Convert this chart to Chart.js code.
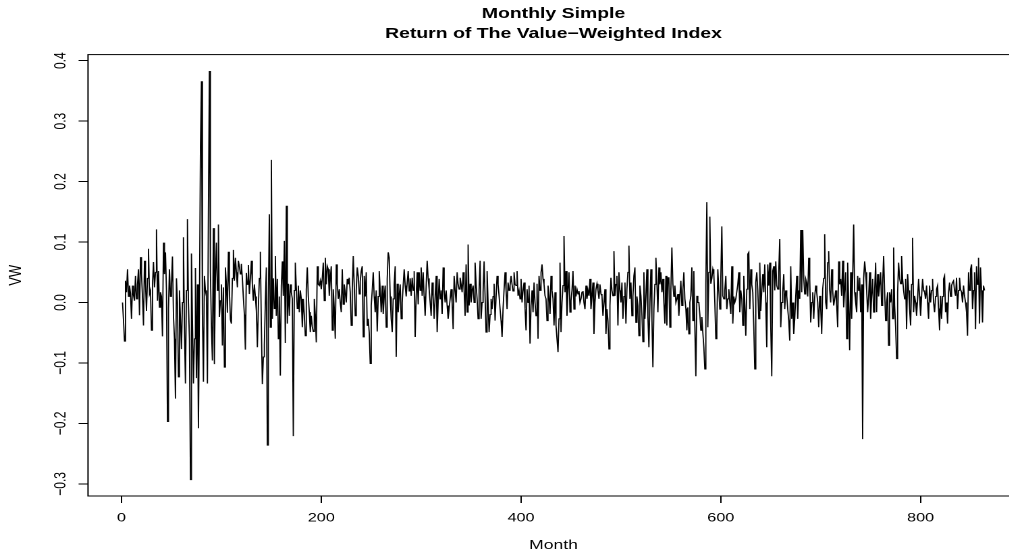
<!DOCTYPE html>
<html><head><meta charset="utf-8">
<script src="https://cdn.jsdelivr.net/npm/chart.js@4.4.1/dist/chart.umd.min.js"></script>
<style>
html,body{margin:0;padding:0;background:#fff;overflow:hidden;width:1009px;height:554px;}
#wrap{position:absolute;left:0;top:0;width:770px;height:554px;transform:scaleX(1.35);transform-origin:0 0;}
canvas{display:block;}
</style></head><body>
<div id="wrap"><canvas id="c" width="770" height="554"></canvas></div>
<script>
// ---- data: monthly simple returns of the value-weighted index, months 1..864 ----
const vw_m001_072 = [
 0.000,-0.030,-0.064,0.036,0.017,0.055,0.010,0.028,0.015,-0.027,
 0.028,0.012,0.003,0.044,0.006,0.030,0.055,-0.021,0.075,0.047,
 0.010,-0.038,0.069,0.030,-0.014,0.040,0.089,0.014,0.020,-0.046,
 0.030,0.067,0.025,0.050,0.121,0.003,0.052,-0.008,0.017,0.010,
 -0.056,0.099,0.047,0.083,0.020,-0.197,-0.010,0.055,0.010,0.028,
 0.076,-0.021,-0.060,-0.159,0.040,0.000,-0.123,0.020,-0.027,-0.077,
 0.000,0.108,-0.040,-0.134,0.020,0.138,0.000,-0.060,-0.293,0.081,
 -0.030,-0.134];
const vw_m073_138 = [
 -0.060,0.057,-0.125,0.030,-0.208,-0.010,0.250,0.366,
 -0.020,-0.131,0.044,0.020,0.010,-0.134,0.150,0.383,0.050,-0.040,
 -0.096,0.123,-0.102,0.040,0.099,0.020,0.129,-0.024,0.003,0.030,
 -0.071,0.025,-0.107,0.058,0.030,-0.017,0.084,0.020,-0.028,-0.035,
 0.040,0.087,0.036,0.074,0.050,0.025,0.069,0.060,0.047,0.064,
 0.040,0.008,-0.020,-0.078,0.049,0.030,0.062,0.014,0.040,0.069,
 0.030,0.003,0.030,0.010,-0.014,-0.074,-0.008,0.040];
const vw_m139_226 = [
 0.084,-0.040,
 -0.135,-0.090,-0.070,0.000,0.058,-0.236,0.000,0.146,-0.041,0.236,
 -0.027,0.040,-0.010,0.077,-0.022,0.039,-0.060,0.010,-0.121,0.028,
 0.068,0.011,0.102,-0.067,0.160,-0.035,0.031,-0.022,0.030,0.017,
 0.006,-0.221,0.020,0.066,0.025,-0.010,0.028,-0.016,0.020,0.006,
 -0.041,0.006,-0.020,-0.055,0.022,0.058,0.010,-0.016,-0.049,-0.022,
 -0.040,-0.048,0.006,-0.020,-0.066,0.060,0.030,0.028,0.036,0.022,
 0.040,0.066,0.003,0.074,0.030,0.060,0.055,0.011,0.040,0.060,
 -0.046,0.022,-0.010,-0.060,0.063,0.030,0.006,0.022,0.000,-0.016,
 0.055,-0.003,0.030,0.017,0.000,0.039];
const vw_m227_306 = [
 0.030,0.041,0.017,-0.038,
 0.020,0.077,0.028,-0.022,0.020,0.058,0.044,0.014,0.035,0.052,
 0.060,-0.057,0.044,0.010,0.050,-0.038,-0.027,-0.050,-0.101,-0.005,
 0.020,0.050,0.010,-0.016,0.020,-0.048,0.010,0.052,0.020,-0.016,
 0.028,-0.019,0.010,0.028,-0.041,0.039,0.083,0.074,0.010,-0.027,
 -0.049,0.006,0.030,0.060,-0.090,0.031,-0.016,0.011,0.030,-0.027,
 0.000,0.028,0.055,0.028,0.010,0.033,0.052,0.019,0.040,0.011,
 0.041,0.020,0.052,-0.057,0.010,0.050,-0.003,0.050,0.020,0.058,
 0.011,0.050,0.010,-0.022,0.028,0.069];
const vw_m307_387 = [
 0.040,0.022,0.000,-0.022,
 0.033,0.010,-0.027,0.010,0.044,-0.049,0.000,0.039,0.006,0.020,
 -0.019,0.058,0.020,0.000,0.020,-0.005,-0.027,-0.010,0.006,0.022,
 0.000,-0.044,0.044,0.020,0.000,0.050,0.030,0.022,0.041,0.030,
 0.017,0.050,0.020,-0.022,0.063,-0.016,0.096,-0.005,0.031,0.000,
 0.020,0.028,0.000,0.066,0.030,0.006,-0.027,0.020,0.069,-0.027,
 0.000,0.017,0.068,0.010,-0.049,0.052,0.000,-0.049,-0.020,0.006,
 -0.011,0.010,0.031,-0.030,0.010,0.044,0.030,0.011,-0.011,-0.030,
 -0.057,-0.010,0.022,0.050,0.020,-0.011,0.033];
const vw_m388_466 = [
 0.020,0.028,0.044,
 0.030,0.019,0.050,0.030,0.028,0.052,0.011,0.020,0.006,0.039,
 0.000,0.020,0.033,-0.010,-0.046,0.022,0.000,0.028,-0.068,-0.005,
 0.020,-0.016,0.033,0.000,-0.022,0.031,-0.060,0.044,0.020,0.050,
 0.063,0.039,0.030,0.011,0.006,-0.030,0.028,0.011,-0.019,0.044,
 0.020,0.006,-0.038,0.017,-0.038,-0.060,-0.082,-0.027,0.066,-0.049,
 0.000,0.028,0.110,0.017,0.052,-0.022,0.020,0.050,-0.016,0.003,
 0.020,0.052,-0.011,0.028,0.010,0.022,0.014,0.019,0.000,0.006,
 0.017,0.019,0.000,-0.011,0.028,0.006];
const vw_m467_547 = [
 0.020,0.011,0.039,-0.011,
 0.010,0.033,-0.052,0.000,0.022,0.031,0.020,0.006,0.030,0.014,
 0.011,-0.022,0.000,0.022,-0.052,-0.011,-0.030,-0.077,-0.005,0.041,
 0.020,0.011,0.085,0.011,0.030,0.044,-0.038,0.050,0.020,0.000,
 0.033,-0.027,0.010,0.033,-0.035,0.022,0.050,0.094,0.006,0.033,
 -0.022,0.010,0.044,0.058,-0.033,0.010,-0.005,-0.055,0.028,0.011,
 -0.020,-0.065,0.050,-0.027,0.010,0.055,-0.022,-0.074,0.000,0.055,
 -0.027,-0.107,-0.011,0.030,0.074,0.033,-0.016,0.058,0.030,0.050,
 0.017,0.039,0.000,-0.035,0.044,-0.038,0.041];
const vw_m548_627 = [
 0.041,-0.041,0.020,
 0.091,0.031,0.010,0.028,0.000,0.006,0.014,-0.022,0.010,0.036,
 -0.005,0.020,0.050,0.006,-0.010,-0.046,-0.008,-0.052,0.000,0.011,
 0.058,-0.030,0.052,-0.040,-0.122,0.011,0.000,0.000,-0.020,-0.046,
 -0.024,-0.050,-0.074,-0.110,0.030,0.166,-0.041,0.050,0.142,0.031,
 0.040,0.055,0.047,0.000,-0.060,-0.038,0.055,0.020,-0.011,0.040,
 0.126,0.011,0.006,0.020,0.044,-0.011,0.006,0.022,0.000,-0.019,
 0.060,-0.035,0.010,0.000,0.006,0.006,0.030,0.050,-0.016,0.020,
 0.006,-0.038,0.044,0.000,-0.055,0.022,0.080];
const vw_m628_707 = [
 0.083,-0.011,0.055,
 0.030,0.017,-0.040,-0.110,0.033,0.050,0.020,-0.027,0.066,-0.014,
 0.020,0.047,0.017,0.063,0.000,-0.074,0.063,0.028,0.066,-0.040,
 -0.122,0.052,0.060,0.020,0.068,0.028,0.022,0.050,0.105,-0.041,
 0.000,0.017,0.047,-0.011,0.020,0.011,-0.011,-0.030,-0.063,0.060,
 -0.027,0.000,-0.052,-0.027,0.010,0.044,-0.027,0.020,0.006,0.120,
 0.017,0.120,0.040,0.014,0.039,0.033,0.010,0.074,0.039,-0.033,
 0.000,0.017,-0.027,0.010,0.028,0.017,0.000,-0.041,0.011,-0.010,
 -0.052,0.022,0.040,0.113,0.000,-0.011,0.066];
const vw_m708_787 = [
 0.085,0.020,0.000,
 0.055,0.020,-0.005,0.006,0.020,-0.003,-0.041,0.068,0.030,0.039,
 0.011,0.069,-0.008,0.020,0.050,-0.060,0.066,0.000,-0.079,0.050,
 -0.027,0.040,0.129,0.017,0.000,-0.016,0.044,0.020,0.041,-0.016,
 0.030,-0.226,0.040,0.068,0.050,0.020,-0.016,0.011,0.050,-0.027,
 0.010,0.039,-0.016,0.020,0.066,-0.016,0.047,0.010,0.028,0.050,
 -0.005,0.030,0.077,0.017,-0.030,0.000,0.017,-0.071,0.017,0.000,
 0.022,-0.027,0.091,-0.005,-0.040,-0.093,0.017,0.066,0.040,0.031,
 0.077,0.039,0.020,0.006,0.039,-0.044,0.047];
const vw_m788_864 = [
 0.020,-0.011,-0.038,
 0.030,0.107,-0.016,0.011,0.000,-0.022,0.006,0.039,0.010,-0.022,
 0.011,0.039,0.020,0.017,0.006,0.028,0.000,-0.027,0.028,0.000,
 0.020,0.039,0.000,-0.016,0.010,0.022,0.028,-0.010,-0.046,0.011,
 -0.027,0.010,0.039,0.044,-0.016,0.000,-0.035,0.017,0.033,0.010,
 0.028,0.033,0.036,0.020,0.011,0.041,-0.011,0.020,0.041,0.022,
 0.017,0.000,0.028,0.011,0.000,-0.016,-0.055,0.050,0.020,0.055,
 0.063,-0.011,0.020,0.050,-0.044,0.060,0.030,0.074,-0.035,0.058,
 0.020,-0.033,0.028,0.020];

const xTicks = [0, 200, 400, 600, 800];
const yTicks = [-0.3, -0.2, -0.1, 0.0, 0.1, 0.2, 0.3, 0.4];
const titleLines = ['Monthly Simple', 'Return of The Value\u2212Weighted Index'];
const xLabel = 'Month';
const yLabel = 'VW';

// ---- build ----
const vw = [].concat(vw_m001_072, vw_m073_138, vw_m139_226, vw_m227_306, vw_m307_387,
  vw_m388_466, vw_m467_547, vw_m548_627, vw_m628_707, vw_m708_787, vw_m788_864);
const points = vw.map((v, i) => ({x: i + 1, y: v}));
const n = vw.length;
const xExt = 0.04 * (n - 1);
const lo = Math.min(...vw), hi = Math.max(...vw), yExt = 0.04 * (hi - lo);

const FONT = '"Liberation Sans", Arial, Helvetica, sans-serif';
const fmtY = v => (v < -1e-9 ? '\u2212' : '') + Math.abs(v).toFixed(1);

const boxPlugin = {
  id: 'rbox',
  afterDraw(chart) {
    const {ctx, chartArea: a} = chart;
    ctx.save();
    ctx.strokeStyle = '#000';
    ctx.lineWidth = 1;
    ctx.strokeRect(a.left, a.top, a.right - a.left, a.bottom - a.top);
    ctx.restore();
  }
};

const tickGrid = {display: true, drawOnChartArea: false, drawTicks: true, tickLength: 7, color: '#000', lineWidth: 1};

new Chart(document.getElementById('c').getContext('2d'), {
  type: 'line',
  data: {datasets: [{data: points, borderColor: '#000', borderWidth: 0.9, pointRadius: 0, tension: 0, fill: false}]},
  options: {
    responsive: false, animation: false, devicePixelRatio: 2,
    layout: {padding: {left: 0, right: 15.2, top: 0, bottom: 0}},
    plugins: {
      legend: {display: false}, tooltip: {enabled: false},
      title: {display: true, text: titleLines, color: '#000', fullSize: false,
        font: {family: FONT, size: 14.4, weight: 'bold', lineHeight: '20px'},
        padding: {top: 4, bottom: 10.6}}
    },
    scales: {
      x: {type: 'linear', min: 1 - xExt, max: n + xExt,
        afterBuildTicks: s => { s.ticks = xTicks.map(v => ({value: v})); },
        afterFit: s => { s.height = 58; },
        grid: tickGrid, border: {display: false},
        ticks: {color: '#000', font: {family: FONT, size: 12}, padding: 8, maxRotation: 0, autoSkip: false,
          callback: v => String(v)},
        title: {display: true, text: xLabel, color: '#000', font: {family: FONT, size: 13}, padding: {top: 0, bottom: 1}}
      },
      y: {type: 'linear', min: lo - yExt, max: hi + yExt,
        afterBuildTicks: s => { s.ticks = yTicks.map(v => ({value: v})); },
        afterFit: s => { s.width = 65.2; },
        grid: tickGrid, border: {display: false},
        ticks: {color: '#000', font: {family: FONT, size: 12}, padding: 1, minRotation: 90, maxRotation: 90,
          crossAlign: 'center', autoSkip: false, callback: v => fmtY(v)},
        title: {display: true, text: yLabel, color: '#000', font: {family: FONT, size: 13}, padding: {top: 4.2, bottom: 0}}
      }
    }
  },
  plugins: [boxPlugin]
});
</script>
</body></html>
